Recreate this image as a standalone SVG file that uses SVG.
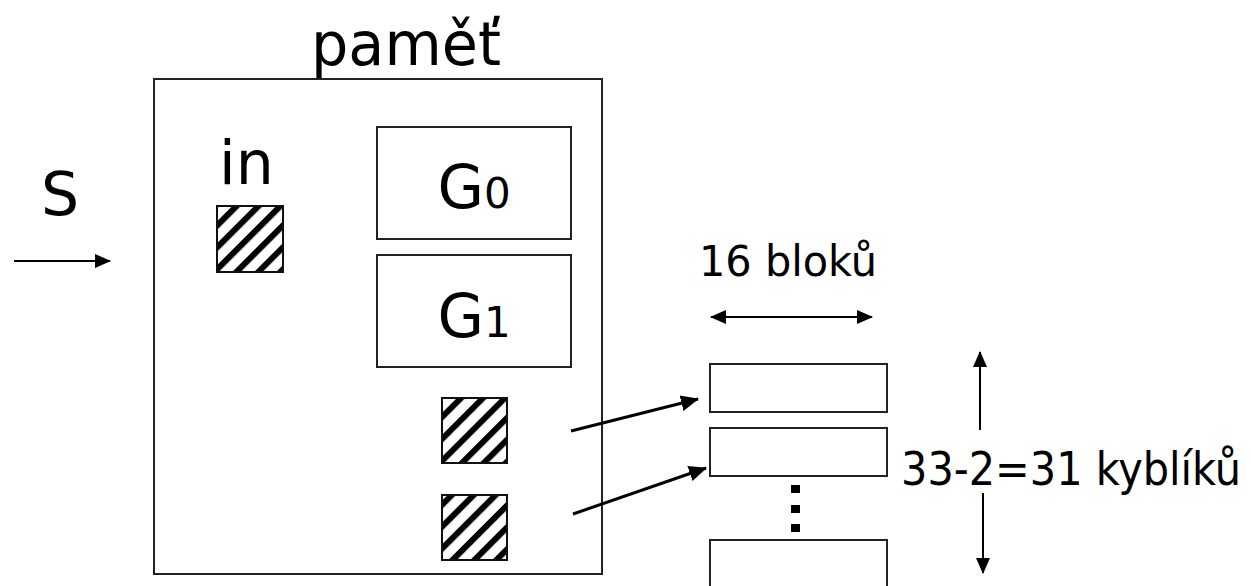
<svg xmlns="http://www.w3.org/2000/svg" width="1251" height="586" viewBox="0 0 1251 586">
<style>
  .box { fill: #fff; stroke: #222; stroke-width: 2; }
  .hatch { fill: url(#stripes); stroke: #111; stroke-width: 2; }
  .t { font-family: "DejaVu Sans", Verdana, sans-serif; fill: #000; }
  .tc { font-family: "DejaVu Sans Condensed", "DejaVu Sans", sans-serif; fill: #000; }
  .ln { stroke: #000; stroke-width: 2; fill: none; }
  .ln3 { stroke: #000; stroke-width: 3; fill: none; }
</style>
<defs>
  <pattern id="stripes" patternUnits="userSpaceOnUse" width="15.5" height="15.5" patternTransform="rotate(-45)">
    <rect x="0" y="0" width="15.5" height="15.5" fill="#fff"/>
    <rect x="0" y="0" width="15.5" height="6" fill="#000"/>
  </pattern>
  <marker id="ah" markerUnits="userSpaceOnUse" markerWidth="16" markerHeight="16" viewBox="0 0 16 16" refX="15" refY="8" orient="auto-start-reverse">
    <path d="M0,1 L16,8 L0,15 Z" fill="#000"/>
  </marker>
  <marker id="ahb" markerUnits="userSpaceOnUse" markerWidth="18" markerHeight="18" viewBox="0 0 18 18" refX="17" refY="9" orient="auto">
    <path d="M0,1 L18,9 L0,17 Z" fill="#000"/>
  </marker>
</defs>

<g id="memory">
  <rect class="box" x="154" y="79" width="448" height="495"/>
  <text class="t" x="311" y="65" font-size="60" textLength="190" lengthAdjust="spacingAndGlyphs">paměť</text>
</g>

<g id="input">
  <text class="t" x="219" y="184" font-size="60">in</text>
  <rect class="hatch" x="217" y="206" width="66" height="66"/>
</g>

<g id="source">
  <text class="t" x="41" y="215" font-size="60">S</text>
</g>

<g id="g0">
  <rect class="box" x="377" y="127" width="194" height="112"/>
  <text class="t" x="474" y="208" font-size="60" text-anchor="middle">G<tspan font-size="42">0</tspan></text>
</g>

<g id="g1">
  <rect class="box" x="377" y="255" width="194" height="112"/>
  <text class="t" x="474" y="337" font-size="60" text-anchor="middle">G<tspan font-size="42">1</tspan></text>
</g>

<g id="out1">
  <rect class="hatch" x="442" y="398" width="65" height="65"/>
</g>
<g id="out2">
  <rect class="hatch" x="442" y="495" width="65" height="65"/>
</g>

<g id="buckets">
  <rect class="box" x="710" y="364" width="177" height="48"/>
  <rect class="box" x="710" y="428" width="177" height="48"/>
  <rect class="box" x="710" y="540" width="177" height="60"/>
  <rect x="791" y="485" width="9" height="8" fill="#000"/>
  <rect x="791" y="505" width="9" height="8" fill="#000"/>
  <rect x="791" y="524" width="9" height="8" fill="#000"/>
</g>

<g id="labels">
  <text class="t" x="699" y="276" font-size="43" textLength="178" lengthAdjust="spacingAndGlyphs">16 bloků</text>
  <text class="tc" x="901" y="485" font-size="47" textLength="340" lengthAdjust="spacingAndGlyphs">33-2=31 kyblíků</text>
</g>

<g id="connectors">
  <line class="ln" x1="14" y1="261" x2="110" y2="261" marker-end="url(#ah)"/>
  <line class="ln" x1="711" y1="317" x2="872" y2="317" marker-start="url(#ah)" marker-end="url(#ah)"/>
  <line class="ln" x1="980" y1="430" x2="980" y2="352" marker-end="url(#ah)"/>
  <line class="ln" x1="983" y1="493" x2="983" y2="573" marker-end="url(#ah)"/>
  <line class="ln3" x1="571" y1="431" x2="698" y2="399" marker-end="url(#ahb)"/>
  <line class="ln3" x1="573" y1="514" x2="706" y2="468" marker-end="url(#ahb)"/>
</g>
</svg>
